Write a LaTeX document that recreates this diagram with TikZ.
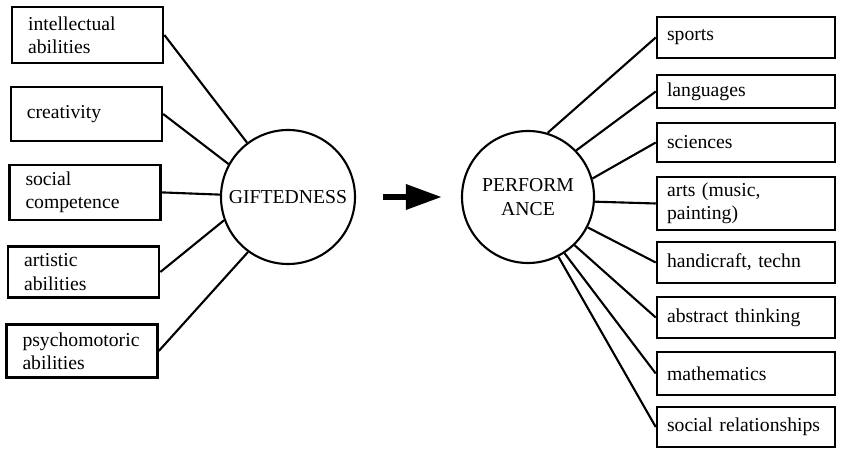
\documentclass[tikz,border=0pt]{standalone}
\usepackage{fontspec}
\setmainfont{Liberation Serif}
\usetikzlibrary{arrows.meta}
\hyphenpenalty=10000

\begin{document}
\begin{tikzpicture}[
    trait/.style={rectangle, draw=black, line width=1.8pt, minimum width=3.775cm, inner xsep=0.4cm, text width=2.975cm, align=left},
    field/.style={rectangle, draw=black, line width=1.8pt, minimum width=4.45cm, inner xsep=0.25cm, text width=3.95cm, align=left},
    core/.style={circle, draw=black, line width=1.5pt, inner sep=0pt, align=center},
    link/.style={line width=1.5pt},
    bigarrow/.style={line width=4.5pt, -{Triangle[length=0.9cm, width=0.6cm]}},
    font=\fontsize{14}{16.5}\selectfont
]
    \useasboundingbox (0,0) rectangle (21.025,11.2);

    % Giftedness factors
    \node[trait, minimum height=1.4cm] (intel) at (2.19,10.325) {intellectual\\abilities};
    \node[trait, minimum height=1.35cm] (creat) at (2.16,8.35) {creativity};
    \node[trait, minimum height=1.375cm] (socomp) at (2.125,6.39) {social\\competence};
    \node[trait, minimum height=1.275cm] (artab) at (2.09,4.4) {artistic\\abilities};
    \node[trait, minimum height=1.325cm] (psymo) at (2.05,2.425) {psychomotoric\\abilities};

    % Centres
    \node[core, minimum size=3.35cm] (gift) at (7.2,6.275) {GIFTEDNESS};
    \node[core, minimum size=3.3cm] (perf) at (13.2,6.275) {PERFORM\\ANCE};

    \draw[bigarrow, shorten <=0.675cm, shorten >=0.475cm] (gift) -- (perf);

    % Performance areas
    \node[field, minimum height=1.025cm] (sports) at (18.65,10.2625) {sports};
    \node[field, minimum height=0.825cm] (lang) at (18.65,8.9125) {languages};
    \node[field, minimum height=0.975cm] (sci) at (18.65,7.6375) {sciences};
    \node[field, minimum height=1.325cm] (arts) at (18.65,6.1125) {arts (music,\\painting)};
    \node[field, minimum height=1.025cm] (handi) at (18.65,4.6375) {handicraft, techn};
    \node[field, minimum height=1.025cm] (abstr) at (18.65,3.2625) {abstract thinking};
    \node[field, minimum height=1.075cm] (math) at (18.65,1.8625) {mathematics};
    \node[field, minimum height=1.0cm] (socrel) at (18.65,0.525) {social relationships};

    % Connectors
    \draw[link] (intel.east) -- (gift.127);
    \draw[link] (creat.east) -- (gift.151);
    \draw[link] (socomp.east) -- (gift.178);
    \draw[link] (artab.east) -- (gift.200);
    \draw[link] (psymo.east) -- (gift.234);

    \draw[link] (perf.73) -- (sports.west);
    \draw[link] (perf.44) -- (lang.west);
    \draw[link] (perf.16) -- (sci.west);
    \draw[link] (perf.-4) -- (arts.west);
    \draw[link] (perf.-27) -- (handi.west);
    \draw[link] (perf.-46) -- (abstr.west);
    \draw[link] (perf.-57) -- (math.west);
    \draw[link] (perf.-63) -- (socrel.west);
\end{tikzpicture}
\end{document}
